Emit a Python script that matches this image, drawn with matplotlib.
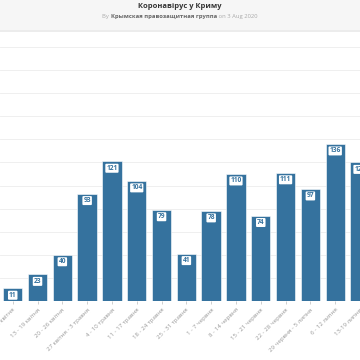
import matplotlib
matplotlib.use('Agg')
import matplotlib.pyplot as plt
import matplotlib.patches as mpatches

# ── Data ───────────────────────────────────────────────────────────────────────
weeks = [
    '6 - 12 квітня', '13 - 19 квітня', '20 - 26 квітня', '27 квітня - 3 травня',
    '4 - 10 травня', '11 - 17 травня', '18 - 24 травня', '25 - 31 травня',
    '1 - 7 червня', '8 - 14 червня', '15 - 21 червня', '22 - 28 червня',
    '29 червня - 5 липня', '6 - 12 липня', '13-19 липня',
]
cases = [11, 23, 40, 93, 121, 104, 79, 41, 78, 110, 74, 111, 97, 136, 120]
grid_vals = list(range(20, 240, 20))

BAR = '#35729e'
FONT = ['Open Sans', 'DejaVu Sans']
plt.rcParams['font.family'] = FONT

fig = plt.figure(figsize=(3.6, 3.6), dpi=100)
fig.patch.set_facecolor('white')

# header strip
fig.patches.append(mpatches.Rectangle((0, 0.917), 1, 0.083, transform=fig.transFigure,
                                      facecolor='#f6f6f6', edgecolor='none', zorder=0))
fig.patches.append(mpatches.Rectangle((0, 0.912), 1, 0.005, transform=fig.transFigure,
                                      facecolor='#ececec', edgecolor='none', zorder=0))
fig.text(0.5, 0.981, 'Коронавірус у Криму', ha='center', va='center',
         fontsize=5.4, fontweight='bold', color='#333333')

# subtitle built from three pieces, laid out side by side and centred
parts = [('By ', '#aaaaaa', 'normal'),
         ('Крымская правозащитная группа', '#666666', 'bold'),
         (' on 3 Aug 2020', '#aaaaaa', 'normal')]
texts = [fig.text(0, 0.955, s, ha='left', va='center', fontsize=4.2, color=c,
                  fontweight=w) for s, c, w in parts]
r = fig.canvas.get_renderer()
widths = [t.get_window_extent(r).width / fig.bbox.width for t in texts]
xpos = 0.5 - sum(widths) / 2
for t, w in zip(texts, widths):
    t.set_x(xpos)
    xpos += w

ax = fig.add_axes([0, 0.1639, 1, 0.7536])
ax.set_facecolor('none')
x = list(range(len(cases)))
ax.bar(x, cases, width=0.78, color=BAR, edgecolor='white', linewidth=0.4, zorder=3)

for xi, v in zip(x, cases):
    ax.annotate(str(v), (xi, v), xytext=(0, -5), textcoords='offset points',
                ha='center', va='center', fontsize=4.8, color=BAR, fontweight='bold',
                bbox=dict(boxstyle='round,pad=0.15', fc='white', ec='none'), zorder=4)

ax.set_xlim(-0.513, 13.69)
ax.set_ylim(0, 235)
ax.set_yticks(grid_vals)
ax.yaxis.grid(True, color='#ececec', linewidth=0.6, zorder=0)
ax.tick_params(axis='y', left=False, labelleft=False)
ax.set_xticks(x)
ax.set_xticklabels(weeks, rotation=45, ha='right', rotation_mode='anchor',
                   fontsize=4.4, color='#999999')
ax.tick_params(axis='x', length=2.5, width=0.5, color='#bbbbbb', pad=2)
for s in ax.spines.values():
    s.set_visible(False)

fig.savefig('out.png', dpi=100, facecolor='white')
